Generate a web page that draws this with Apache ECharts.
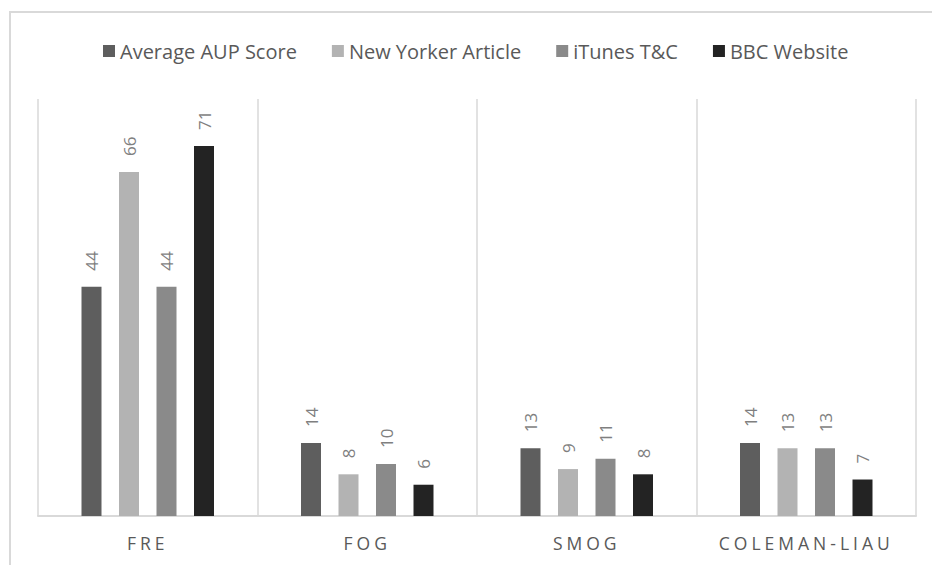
<!DOCTYPE html>
<html>
<head>
<meta charset="utf-8">
<script src="https://cdn.jsdelivr.net/npm/echarts@6/dist/echarts.min.js"></script>
<style>
  html, body { margin: 0; padding: 0; background: #fff; }
  #frame { position: absolute; left: 9px; top: 11px; width: 1000px; height: 1000px;
           border-left: 2px solid #d9d9d9; border-top: 2px solid #d9d9d9; box-sizing: border-box; }
  #chart { position: absolute; left: 0; top: 0; width: 932px; height: 565px; }
  #chart text[style*="17.5px"] { letter-spacing: 4px; }
</style>
</head>
<body>
<div id="frame"></div>
<div id="chart"></div>
<script>
const categories = ['FRE', 'FOG', 'SMOG', 'COLEMAN-LIAU'];
const seriesNames = ['Average AUP Score', 'New Yorker Article', 'iTunes T&C', 'BBC Website'];
const averageAUP = [44, 14, 13, 14];
const newYorker = [66, 8, 9, 13];
const itunesTC = [44, 10, 11, 13];
const bbcWebsite = [71, 6, 8, 7];
const colors = ['#5e5e5e', '#b3b3b3', '#8a8a8a', '#232323'];

const allValues = [averageAUP, newYorker, itunesTC, bbcWebsite];
const chart = echarts.init(document.getElementById('chart'), null, { renderer: 'svg' });
const font = "'Open Sans', 'Noto Sans', sans-serif";

chart.setOption({
  animation: false,
  textStyle: { fontFamily: font },
  legend: {
    top: 36,
    left: 98,
    icon: 'rect',
    itemWidth: 12,
    itemHeight: 12,
    itemGap: 35,
    textStyle: { fontSize: 20, color: '#595959', fontFamily: font },
    data: seriesNames
  },
  grid: { left: 38, right: 16, top: 99, bottom: 49 },
  xAxis: {
    type: 'category',
    data: categories,
    axisLine: { lineStyle: { color: '#d9d9d9', width: 2 } },
    axisTick: { show: false },
    splitLine: { show: true, lineStyle: { color: '#d9d9d9', width: 1.5 } },
    axisLabel: { color: '#595959', fontSize: 17.5, margin: 18, fontFamily: font }
  },
  yAxis: {
    type: 'value',
    min: 0,
    max: 80,
    show: false
  },
  series: allValues.map((vals, i) => ({
    name: seriesNames[i],
    type: 'bar',
    data: vals,
    barWidth: 20,
    barGap: '87.5%',
    itemStyle: { color: colors[i] },
    label: {
      show: true,
      position: 'top',
      rotate: 90,
      align: 'left',
      verticalAlign: 'middle',
      distance: 16,
      color: '#7f7f7f',
      fontSize: 17,
      fontFamily: font
    }
  }))
});
</script>
</body>
</html>
